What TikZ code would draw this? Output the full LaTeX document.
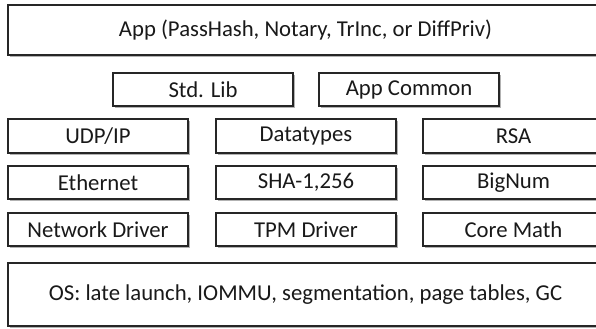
\documentclass[tikz,border=0pt]{standalone}
\usepackage{fontspec}
\setmainfont{Carlito}
\usetikzlibrary{shadows}
\begin{document}
\begin{tikzpicture}[x=1bp,y=-1bp,
  layer/.style={draw=black!85, line width=2bp, fill=white, inner sep=0pt,
    font=\fontsize{22.8}{26}\selectfont, text=black!90,
    drop shadow={shadow xshift=2bp, shadow yshift=-2.2bp, opacity=0.55, fill=black!55}},
]
\useasboundingbox (0,0) rectangle (596,328);
\newcommand\lbox[6]{%
  \node[layer, minimum width={(#4)-(#2)}, minimum height={(#5)-(#3)}] (#1)
    at ({((#2)+(#4))/2},{((#3)+(#5))/2}) {#6};}
\lbox{app}{7}{5}{604}{55}{App (PassHash, Notary, TrInc, or DiffPriv)}
\lbox{stdlib}{113}{73}{293}{106}{Std. Lib}
\lbox{appcommon}{319}{73}{499}{106}{App Common}
\lbox{udp}{8}{119}{188}{153}{UDP/IP}
\lbox{datatypes}{216}{119}{396}{153}{Datatypes}
\lbox{rsa}{423}{119}{604}{153}{RSA}
\lbox{ethernet}{8}{166}{188}{199}{Ethernet}
\lbox{sha}{216}{166}{396}{199}{SHA-1,256}
\lbox{bignum}{423}{166}{604}{199}{BigNum}
\lbox{netdrv}{8}{213}{188}{246}{Network Driver}
\lbox{tpm}{216}{213}{396}{246}{TPM Driver}
\lbox{coremath}{423}{213}{604}{246}{Core Math}
\lbox{os}{7}{263}{604}{326}{OS: late launch, IOMMU, segmentation, page tables, GC}
\end{tikzpicture}
\end{document}
